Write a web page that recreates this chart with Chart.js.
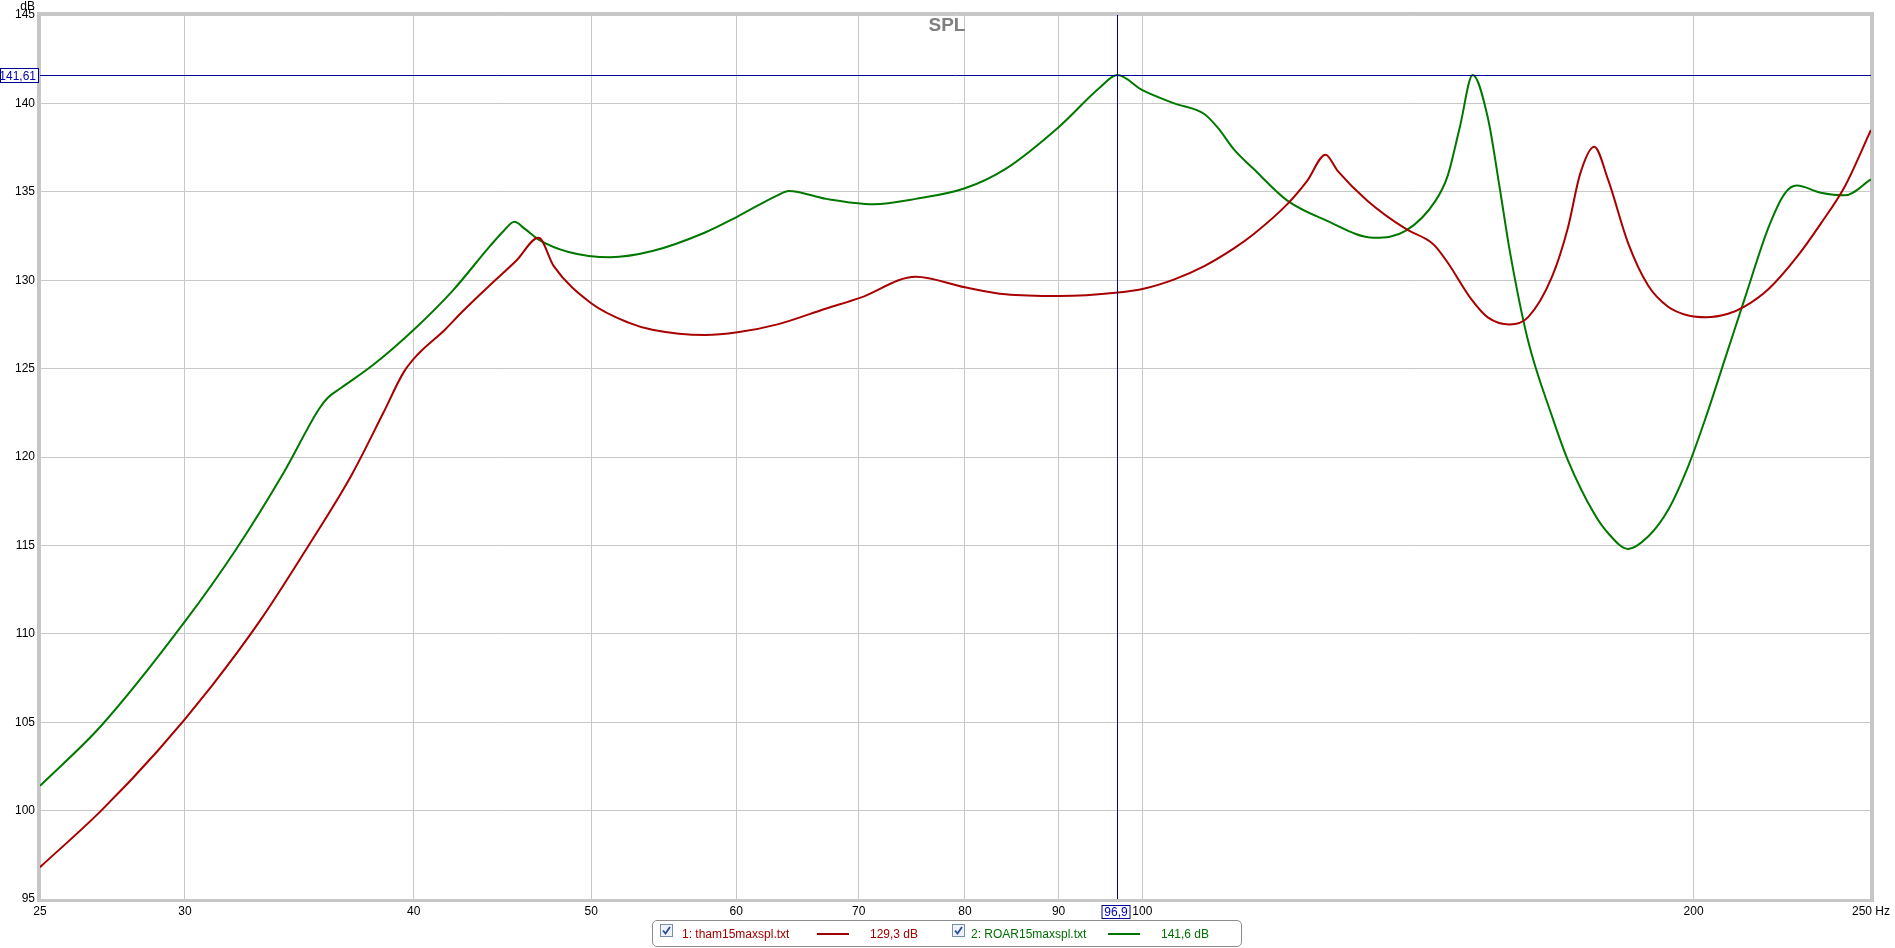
<!DOCTYPE html>
<html>
<head>
<meta charset="utf-8">
<script src="https://cdn.jsdelivr.net/npm/chart.js@4"></script>
<style>
    body { margin: 0; background: #fff; font-family: "Liberation Sans", Arial, sans-serif; }
    #wrap { position: relative; width: 1895px; height: 948px; }
    #legendBox {
        position: absolute; left: 652px; top: 920px; width: 590px; height: 27px;
        border: 1px solid #8c8c8c; border-radius: 5px; box-sizing: border-box;
        font-size: 12px;
    }
    .item { position: absolute; top: 6px; white-space: nowrap; }
    .chk {
        position: absolute; top: 3px; width: 13px; height: 13px;
        border: 1px solid #7a8ea8; background: #eef2f8; box-sizing: border-box;
    }
    .chk svg { position: absolute; left: 1px; top: 1px; }
    .swatch { position: absolute; top: 12px; height: 2px; width: 32px; }
</style>
</head>
<body>
<div id="wrap">
    <canvas id="chartSPL"></canvas>
    <div id="legendBox">
        <div class="chk" style="left:7px"><svg width="9" height="9"><path d="M1 4.5 L3.5 7.5 L8 1" stroke="#2a4a9a" stroke-width="1.8" fill="none"/></svg></div>
        <div class="item" style="left:29px; color:#a00000">1: tham15maxspl.txt</div>
        <div class="swatch" style="left:164px; background:#a00000"></div>
        <div class="item" style="left:217px; color:#a00000">129,3 dB</div>
        <div class="chk" style="left:299px"><svg width="9" height="9"><path d="M1 4.5 L3.5 7.5 L8 1" stroke="#2a4a9a" stroke-width="1.8" fill="none"/></svg></div>
        <div class="item" style="left:318px; color:#007000">2: ROAR15maxspl.txt</div>
        <div class="swatch" style="left:455px; background:#007000"></div>
        <div class="item" style="left:508px; color:#007000">141,6 dB</div>
    </div>
</div>
<script>
// ====================================
// DATOS
// ====================================

const freqRed = [25, 27, 29, 31, 33, 35, 37, 38.5, 39.5, 40.2,
    41.6, 42.5, 44, 45.5, 46.8, 47.7, 50, 52.4, 54, 57.7,
    60.1, 63.2, 67.2, 70.1, 75.2, 80, 84.2, 90.1, 97, 100,
    104.1, 108.1, 112.2, 115, 120, 123, 125.9, 127.8, 132.7, 139.3,
    143.5, 144.6, 146.8, 151.3, 154.4, 158.7, 162.4, 167.4, 170.8, 173.4,
    176.5, 179.6, 184.2, 188.9, 193.7, 198.7, 203.2, 208.9, 213.2, 219.8,
    227.7, 234.7, 241.9, 250];
const splRed = [96.8, 100.0, 103.4, 107.0, 110.8, 114.9, 119.0, 122.5, 124.8, 125.8,
    127.2, 128.2, 129.7, 131.1, 132.4, 130.8, 128.7, 127.6, 127.2, 126.9,
    127.05, 127.5, 128.4, 129.0, 130.2, 129.6, 129.2, 129.1, 129.3, 129.5,
    130.05, 130.8, 131.8, 132.6, 134.3, 135.6, 137.1, 136.2, 134.5, 132.9,
    132.2, 131.9, 131.0, 128.9, 127.9, 127.5, 127.9, 130.2, 133.0, 136.0,
    137.55, 135.7, 132.1, 129.7, 128.5, 128.0, 127.9, 128.1, 128.5, 129.5,
    131.3, 133.2, 135.3, 138.5];

const freqGreen = [25, 27, 30, 32, 34, 35.5, 35.9, 36.5, 38, 40, 42,
    44, 44.8, 45.4, 46, 46.8, 48.6, 51.2, 54, 57.7, 60.1,
    63.2, 64.1, 67.2, 71.3, 75.2, 80, 84.2, 90.1, 94.8, 96.9,
    100, 104.1, 108.1, 110, 112.2, 115, 120, 125.9, 133.8, 139.3,
    144.6, 146.8, 149.1, 151.5, 154.4, 156.8, 158.7, 162.4, 167.4, 170.8,
    176.5, 179.6, 184.2, 188.9, 193.7, 198.7, 203.2, 208.9, 213.2, 219.8,
    224.3, 227.7, 234.7, 241.9, 250];
const splGreen = [101.4, 104.8, 110.7, 114.8, 119.2, 122.7, 123.35, 123.9, 125.2, 127.2, 129.4,
    131.9, 132.8, 133.3, 132.9, 132.3, 131.6, 131.3, 131.65, 132.7, 133.6,
    134.8, 135.05, 134.6, 134.3, 134.6, 135.2, 136.3, 138.7, 140.9, 141.6,
    140.75, 140.0, 139.4, 138.6, 137.4, 136.3, 134.5, 133.4, 132.4, 132.8,
    134.5, 135.9, 138.7, 141.6, 139.2, 135.1, 131.7, 126.6, 122.3, 119.8,
    116.8, 115.7, 114.8, 115.5, 117.0, 119.5, 122.3, 126.1, 128.9, 133.0,
    134.9, 135.35, 134.95, 134.8, 135.7];

const xTickValues = [25, 30, 40, 50, 60, 70, 80, 90, 100, 200, 250];
const yTickValues = [95, 100, 105, 110, 115, 120, 125, 130, 135, 140, 145];

const cursorFreq = 96.9;
const cursorLevel = 141.61;

// ====================================
// DECORACION (marco, cursor, titulo)
// ====================================

const decorPlugin = {
    id: 'decor',
    beforeDraw(chart) {
        const c = chart.ctx;
        c.save();
        c.fillStyle = '#fff';
        c.fillRect(0, 0, chart.width, chart.height);
        c.restore();
    },
    afterDraw(chart) {
        const c = chart.ctx;
        const a = chart.chartArea;
        const xs = chart.scales.x;
        const ys = chart.scales.y;
        c.save();

        // marco gris
        c.strokeStyle = '#c6c6c6';
        c.lineWidth = 3;
        c.strokeRect(a.left - 1.5, a.top - 1.5, a.right - a.left + 3, a.bottom - a.top + 3);

        // cursor
        const cx = Math.round(xs.getPixelForValue(cursorFreq)) + 0.5;
        const cy = Math.round(ys.getPixelForValue(cursorLevel)) + 0.5;
        c.strokeStyle = '#000096';
        c.lineWidth = 1;
        c.beginPath();
        c.moveTo(cx, a.top); c.lineTo(cx, a.bottom);
        c.moveTo(a.left, cy); c.lineTo(a.right, cy);
        c.stroke();

        c.font = '12px "Liberation Sans", Arial, sans-serif';
        c.textBaseline = 'middle';

        // etiqueta del cursor en Y
        c.fillStyle = '#fff';
        c.fillRect(0.5, cy - 7, 38, 14);
        c.strokeRect(0.5, cy - 7, 38, 14);
        c.fillStyle = '#0000b4';
        c.textAlign = 'right';
        c.fillText('141,61', 36, cy + 1);

        // etiqueta del cursor en X
        c.fillStyle = '#fff';
        c.fillRect(cx - 15.5, a.bottom + 6.5, 28, 13);
        c.strokeRect(cx - 15.5, a.bottom + 6.5, 28, 13);
        c.fillStyle = '#0000b4';
        c.textAlign = 'center';
        c.fillText('96,9', cx - 1.5, a.bottom + 13.5);

        // unidades
        c.fillStyle = '#000';
        c.textAlign = 'right';
        c.textBaseline = 'alphabetic';
        c.fillText('dB', 35, 10);

        // titulo
        c.fillStyle = '#808080';
        c.font = 'bold 19px "Liberation Sans", Arial, sans-serif';
        c.textAlign = 'center';
        c.textBaseline = 'middle';
        c.fillText('SPL', 947, 26);
        c.restore();
    }
};

function toPoints(freqs, levels) {
    return freqs.map((f, i) => ({ x: f, y: levels[i] }));
}

const ctx = document.getElementById('chartSPL');

const chartSPL = new Chart(ctx, {
    type: 'line',
    data: {
        datasets: [
            {
                label: '1: tham15maxspl.txt',
                data: toPoints(freqRed, splRed),
                borderColor: '#a80000',
                borderWidth: 2,
                pointRadius: 0,
                cubicInterpolationMode: 'monotone'
            },
            {
                label: '2: ROAR15maxspl.txt',
                data: toPoints(freqGreen, splGreen),
                borderColor: '#007800',
                borderWidth: 2,
                pointRadius: 0,
                cubicInterpolationMode: 'monotone'
            }
        ]
    },
    options: {
        responsive: true,
        maintainAspectRatio: false,
        animation: false,
        layout: {
            padding: { top: 15, right: 20, left: 0, bottom: 0 }
        },
        plugins: {
            legend: { display: false },
            tooltip: { enabled: false }
        },
        scales: {
            x: {
                type: 'logarithmic',
                min: 25,
                max: 250,
                afterBuildTicks: (scale) => {
                    scale.ticks = xTickValues.map(v => ({ value: v }));
                },
                afterFit: (scale) => { scale.height = 49; },
                ticks: {
                    autoSkip: false,
                    maxRotation: 0,
                    padding: 5,
                    color: '#000',
                    font: { family: '"Liberation Sans", Arial, sans-serif', size: 12 },
                    callback: (v) => v === 250 ? '250 Hz' : String(v)
                },
                grid: { color: '#c8c8c8', drawTicks: false },
                border: { display: false }
            },
            y: {
                min: 95,
                max: 145,
                afterBuildTicks: (scale) => {
                    scale.ticks = yTickValues.map(v => ({ value: v }));
                },
                afterFit: (scale) => { scale.width = 40; },
                ticks: {
                    padding: 5,
                    color: '#000',
                    font: { family: '"Liberation Sans", Arial, sans-serif', size: 12 }
                },
                grid: { color: '#c8c8c8', drawTicks: false },
                border: { display: false }
            }
        }
    },
    plugins: [decorPlugin]
});
</script>
</body>
</html>
